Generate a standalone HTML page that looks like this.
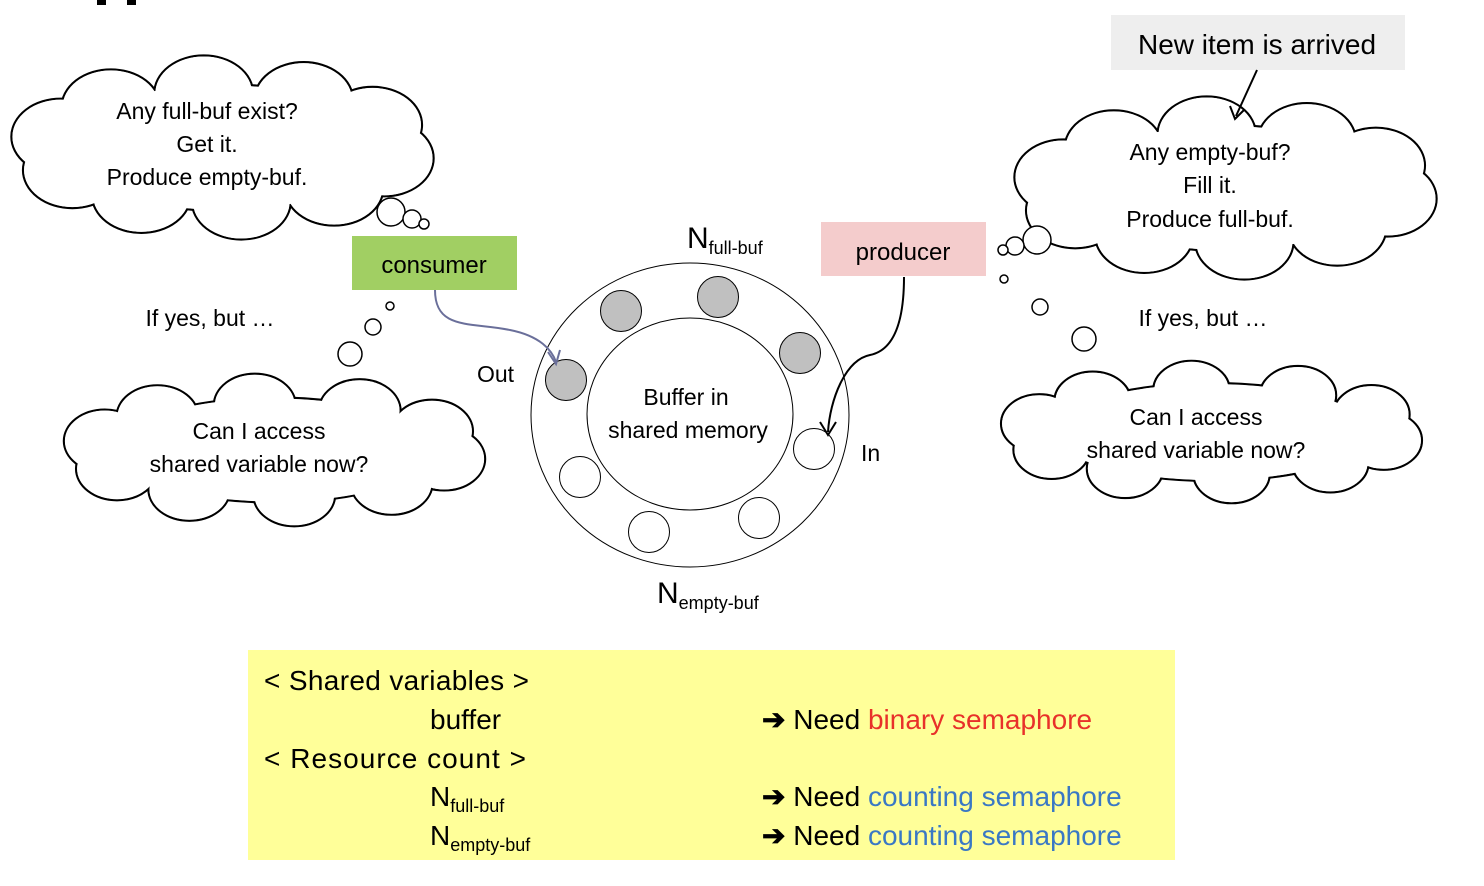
<!DOCTYPE html>
<html><head><meta charset="utf-8"><style>
html,body{margin:0;padding:0;background:#fff;}
svg{display:block;font-family:"Liberation Sans",sans-serif;}
</style></head><body>
<svg id="s" width="1484" height="886" viewBox="0 0 1484 886" xmlns="http://www.w3.org/2000/svg">
<rect x="97" y="0" width="9" height="5" fill="#000"/><rect x="127" y="0" width="9" height="5" fill="#000"/>
<g id="clouds"></g>
<g fill="#fff" stroke="#000" stroke-width="1.5">
<circle cx="391" cy="212" r="14"/><circle cx="412" cy="219" r="9"/><circle cx="424" cy="224" r="5"/>
<circle cx="390" cy="306" r="4"/><circle cx="373" cy="327" r="8"/><circle cx="350" cy="354" r="12"/>
<circle cx="1037" cy="240" r="14"/><circle cx="1015" cy="246" r="9"/><circle cx="1003" cy="250" r="5"/>
<circle cx="1004" cy="279" r="4"/><circle cx="1040" cy="307" r="8"/><circle cx="1084" cy="339" r="12"/>
</g>
<g font-size="23" text-anchor="middle" fill="#000">
<text x="207" y="119">Any full-buf exist?</text>
<text x="207" y="152">Get it.</text>
<text x="207" y="185">Produce empty-buf.</text>
<text x="259" y="439">Can I access</text>
<text x="259" y="472">shared variable now?</text>
<text x="1210" y="160">Any empty-buf?</text>
<text x="1210" y="193">Fill it.</text>
<text x="1210" y="227">Produce full-buf.</text>
<text x="1196" y="425">Can I access</text>
<text x="1196" y="458">shared variable now?</text>
<text x="210" y="326">If yes, but …</text>
<text x="1203" y="326">If yes, but …</text>
</g>
<rect x="1111" y="15" width="294" height="55" fill="#eeeeee"/>
<text x="1257" y="54" font-size="28" text-anchor="middle">New item is arrived</text>
<path d="M1257 70 L1236 116" stroke="#000" stroke-width="2"/><path d="M1230 106 L1235 119 L1244 110" fill="none" stroke="#000" stroke-width="2"/>
<rect x="352" y="236" width="165" height="54" fill="#a1cf63"/>
<text x="434" y="273" font-size="24" text-anchor="middle">consumer</text>
<rect x="821" y="222" width="165" height="54" fill="#f4cccc"/>
<text x="903" y="260" font-size="24" text-anchor="middle">producer</text>
<ellipse cx="690" cy="415" rx="159" ry="152" fill="#fff" stroke="#000" stroke-width="1"/>
<ellipse cx="690" cy="414" rx="103" ry="96" fill="#fff" stroke="#000" stroke-width="1"/>
<g stroke="#000" stroke-width="1">
<circle cx="621" cy="311" r="20.5" fill="#c0c0c0"/><circle cx="718" cy="297" r="20.5" fill="#c0c0c0"/>
<circle cx="800" cy="353" r="20.5" fill="#c0c0c0"/><circle cx="566" cy="380" r="20.5" fill="#c0c0c0"/>
<circle cx="580" cy="477" r="20.5" fill="#fff"/><circle cx="649" cy="532" r="20.5" fill="#fff"/>
<circle cx="759" cy="518" r="20.5" fill="#fff"/><circle cx="814" cy="449" r="20.5" fill="#fff"/>
</g>
<g font-size="23" text-anchor="middle">
<text x="686" y="405">Buffer in</text>
<text x="688" y="438">shared memory</text>
</g>
<text x="477" y="382" font-size="23">Out</text>
<text x="861" y="461" font-size="23">In</text>
<text x="687" y="248" font-size="30">N<tspan font-size="18" dy="6">full-buf</tspan></text>
<text x="657" y="603" font-size="30">N<tspan font-size="18" dy="6">empty-buf</tspan></text>
<path d="M435 290 C435 330 470 322 510 330 C540 336 552 350 556 362" fill="none" stroke="#6a6f9a" stroke-width="2"/>
<path d="M548 352 L556 364 L560 350" fill="none" stroke="#6a6f9a" stroke-width="2"/>
<path d="M904 277 C904 320 895 350 870 355 C845 360 830 400 828 432" fill="none" stroke="#000" stroke-width="2"/>
<path d="M820 422 L828 435 L836 422" fill="none" stroke="#000" stroke-width="2"/>
<rect x="248" y="650" width="927" height="210" fill="#ffff99"/>
<g font-size="28">
<text x="264" y="690" textLength="265">&lt; Shared variables &gt;</text>
<text x="430" y="729">buffer</text>
<text x="264" y="768" textLength="262">&lt; Resource count &gt;</text>
<text x="430" y="806">N<tspan font-size="18" dy="6">full-buf</tspan></text>
<text x="430" y="845">N<tspan font-size="18" dy="6">empty-buf</tspan></text>
<text x="762" y="729"><tspan font-weight="bold">➔</tspan> Need <tspan fill="#e8312a">binary semaphore</tspan></text>
<text x="762" y="806"><tspan font-weight="bold">➔</tspan> Need <tspan fill="#3a78c4">counting semaphore</tspan></text>
<text x="762" y="845"><tspan font-weight="bold">➔</tspan> Need <tspan fill="#3a78c4">counting semaphore</tspan></text>
</g>
</svg>
<script>
(function(){
var g=document.getElementById('clouds'),NS='http://www.w3.org/2000/svg';
function cloud(x0,y0,x1,y1){
 var cx=(x0+x1)/2,cy=(y0+y1)/2,rx=(x1-x0)/2,ry=(y1-y0)/2;
 var n=10,br=Math.min(rx,ry)*0.42,list=[];
 for(var i=0;i<n;i++){var a=i/n*2*Math.PI+0.2;
  var bx=cx+(rx-br*1.25)*Math.cos(a),by=cy+(ry-br*0.95)*Math.sin(a);
  list.push([bx,by,br*1.3,br]);}
 list.push([cx,cy,rx*0.75,ry*0.7]);
 list.forEach(function(e){var el=document.createElementNS(NS,'ellipse');
  el.setAttribute('cx',e[0]);el.setAttribute('cy',e[1]);el.setAttribute('rx',e[2]);el.setAttribute('ry',e[3]);
  el.setAttribute('fill','#fff');el.setAttribute('stroke','#000');el.setAttribute('stroke-width','2.2');g.appendChild(el);});
 list.forEach(function(e){var el=document.createElementNS(NS,'ellipse');
  el.setAttribute('cx',e[0]);el.setAttribute('cy',e[1]);el.setAttribute('rx',e[2]-1);el.setAttribute('ry',e[3]-1);
  el.setAttribute('fill','#fff');g.appendChild(el);});
}
cloud(10,57,435,238);cloud(62,375,487,525);cloud(1013,98,1438,278);cloud(999,362,1424,502);
})();
</script>
</body></html>
